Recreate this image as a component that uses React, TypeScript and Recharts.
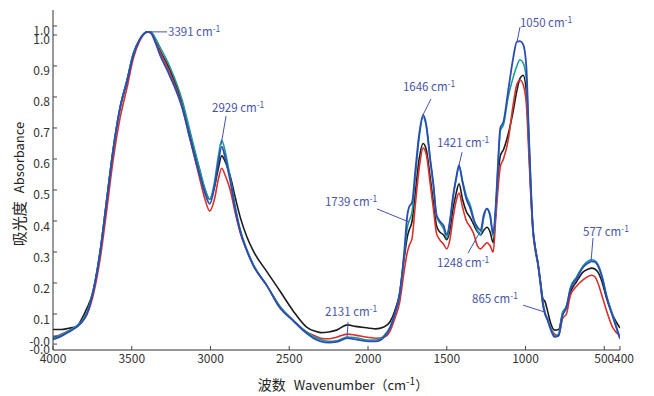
import React from 'react';
import { LineChart, Line, XAxis, YAxis, ReferenceDot, Label } from 'recharts';

// ---- data ----
const wavenumbers = [
  4000, 3950, 3900, 3850, 3820, 3785, 3750, 3700, 3660, 3620, 3575, 3530, 3490, 3450, 3400, 3380, 3350, 3320, 3260, 3180,
  3130, 3070, 3035, 3005, 2975, 2950, 2929, 2905, 2875, 2840, 2810, 2770, 2730, 2640, 2560, 2475, 2390, 2340, 2300, 2250,
  2200, 2131, 2080, 2000, 1950, 1900, 1860, 1830, 1800, 1770, 1750, 1739, 1720, 1700, 1675, 1650, 1630, 1605, 1585, 1565,
  1545, 1520, 1500, 1480, 1460, 1440, 1422, 1400, 1375, 1350, 1330, 1305, 1285, 1265, 1245, 1225, 1205, 1190, 1175, 1160,
  1140, 1110, 1080, 1055, 1035, 1015, 995, 980, 965, 952, 940, 920, 905, 890, 876, 860, 840, 815, 790, 765,
  740, 715, 675, 635, 600, 580, 560, 540, 515, 485, 445, 400,
];

const seriesBlue = [
  0.018, 0.028, 0.042, 0.058, 0.072, 0.1, 0.16, 0.3, 0.46, 0.62, 0.76, 0.85, 0.935, 0.985, 1.01, 1.008, 0.975, 0.935, 0.87, 0.765,
  0.665, 0.55, 0.49, 0.455, 0.51, 0.59, 0.64, 0.6, 0.53, 0.43, 0.365, 0.305, 0.258, 0.19, 0.12, 0.078, 0.038, 0.02, 0.012, 0.008,
  0.01, 0.022, 0.018, 0.012, 0.012, 0.025, 0.055, 0.1, 0.16, 0.3, 0.42, 0.445, 0.46, 0.56, 0.68, 0.742, 0.71, 0.6, 0.52, 0.42,
  0.4, 0.385, 0.355, 0.4, 0.48, 0.54, 0.58, 0.525, 0.47, 0.44, 0.405, 0.38, 0.37, 0.42, 0.44, 0.42, 0.36, 0.44, 0.58, 0.7,
  0.72, 0.82, 0.92, 0.978, 0.98, 0.97, 0.9, 0.7, 0.5, 0.37, 0.32, 0.26, 0.2, 0.135, 0.1, 0.08, 0.05, 0.026, 0.03, 0.095,
  0.12, 0.18, 0.215, 0.25, 0.265, 0.27, 0.268, 0.255, 0.22, 0.155, 0.09, 0.02,
];

const seriesTeal = [
  0.022, 0.032, 0.046, 0.062, 0.076, 0.105, 0.165, 0.305, 0.465, 0.625, 0.765, 0.855, 0.94, 0.985, 1.01, 1.01, 0.99, 0.96, 0.9, 0.79,
  0.69, 0.57, 0.505, 0.47, 0.525, 0.61, 0.66, 0.62, 0.54, 0.44, 0.37, 0.31, 0.262, 0.19, 0.125, 0.08, 0.042, 0.025, 0.018, 0.012,
  0.014, 0.026, 0.024, 0.016, 0.016, 0.03, 0.058, 0.1, 0.16, 0.29, 0.38, 0.4, 0.43, 0.54, 0.67, 0.735, 0.705, 0.595, 0.515, 0.415,
  0.395, 0.375, 0.345, 0.395, 0.475, 0.535, 0.575, 0.53, 0.48, 0.45, 0.41, 0.37, 0.355, 0.41, 0.44, 0.415, 0.35, 0.43, 0.57, 0.69,
  0.71, 0.8, 0.86, 0.9, 0.92, 0.91, 0.86, 0.69, 0.5, 0.37, 0.32, 0.26, 0.2, 0.14, 0.105, 0.085, 0.055, 0.03, 0.035, 0.105,
  0.125, 0.185, 0.22, 0.255, 0.272, 0.275, 0.272, 0.26, 0.225, 0.16, 0.095, 0.022,
];

const seriesBlack = [
  0.05, 0.05, 0.054, 0.06, 0.082, 0.118, 0.165, 0.305, 0.465, 0.625, 0.765, 0.855, 0.94, 0.985, 1.01, 1.008, 0.985, 0.95, 0.89, 0.78,
  0.68, 0.565, 0.5, 0.47, 0.51, 0.57, 0.61, 0.59, 0.545, 0.47, 0.41, 0.35, 0.305, 0.235, 0.175, 0.11, 0.058, 0.045, 0.04, 0.042,
  0.048, 0.065, 0.06, 0.055, 0.052, 0.058, 0.075, 0.11, 0.165, 0.28, 0.35, 0.37, 0.4, 0.49, 0.6, 0.65, 0.63, 0.54, 0.46, 0.385,
  0.365, 0.355, 0.34, 0.37, 0.44, 0.49, 0.52, 0.47, 0.43, 0.41, 0.39, 0.365, 0.355, 0.37, 0.38, 0.365, 0.33, 0.42, 0.54, 0.61,
  0.63, 0.68, 0.75, 0.82, 0.86, 0.87, 0.82, 0.66, 0.48, 0.37, 0.32, 0.26, 0.205, 0.15, 0.14, 0.11, 0.07, 0.048, 0.05, 0.1,
  0.125, 0.17, 0.205, 0.235, 0.245, 0.248, 0.245, 0.235, 0.205, 0.15, 0.095, 0.055,
];

const seriesRed = [
  0.025, 0.034, 0.046, 0.06, 0.072, 0.098, 0.15, 0.28, 0.43, 0.59, 0.73, 0.83, 0.925, 0.98, 1.01, 1.006, 0.98, 0.945, 0.88, 0.77,
  0.665, 0.54, 0.47, 0.432, 0.47, 0.535, 0.57, 0.545, 0.5, 0.42, 0.36, 0.305, 0.26, 0.19, 0.125, 0.08, 0.042, 0.03, 0.022, 0.02,
  0.025, 0.035, 0.032, 0.025, 0.022, 0.025, 0.045, 0.085, 0.135, 0.24, 0.3, 0.32, 0.345, 0.45, 0.57, 0.635, 0.615, 0.52, 0.44, 0.36,
  0.34, 0.325, 0.31, 0.34, 0.41, 0.465, 0.49, 0.445, 0.4, 0.38, 0.36, 0.32, 0.31, 0.32, 0.33, 0.32, 0.3, 0.4, 0.5, 0.575,
  0.6, 0.66, 0.77, 0.84, 0.855, 0.84, 0.78, 0.63, 0.47, 0.36, 0.31, 0.255, 0.195, 0.13, 0.1, 0.085, 0.055, 0.035, 0.03, 0.085,
  0.1, 0.16, 0.19, 0.21, 0.222, 0.225, 0.22, 0.2, 0.16, 0.11, 0.055, 0.03,
];

const xTicks = [4000, 3500, 3000, 2500, 2000, 1500, 1000, 500, 400];
const yTicks = [0.003, 0.029, 0.1, 0.2, 0.3, 0.4, 0.5, 0.6, 0.7, 0.8, 0.9, 1.0, 1.029];

const peakNames = ['3391', '2929', '1646', '1421', '1050', '1739', '2131', '1248', '865', '577'];
const peakWavenumbers = [3384, 2933, 1651, 1422, 1054, 1740, 2133, 1276, 876, 584];
const peakAbsorbance = [1.01, 0.645, 0.742, 0.58, 0.977, 0.397, 0.026, 0.377, 0.106, 0.268];

// ---- layout (pixel offsets of leader end and text start relative to the peak point) ----
const leaderOffsets = [[17, 0], [5, -29], [8, -16], [3, -13], [3, -15], [-32, -13], [1, -15], [-14, 25], [-22, -7], [2, -24]];
const textOffsets = [[18, 4], [-9, -33], [-20, -24], [-22, -18], [3, -15], [-84, -16], [-22, -21], [-45, 39], [-73, -9], [-8, -26]];

const data = wavenumbers.map((w, i) => ({
  w,
  black: seriesBlack[i],
  red: seriesRed[i],
  teal: seriesTeal[i],
  blue: seriesBlue[i],
}));

const FONT = '"Noto Sans CJK SC", "Noto Sans", sans-serif';
const TICK_COLOR = '#333';
const ANN_COLOR = '#4a55a6';

const fmtY = (v: number) => {
  if (v < 0.05) return '-0.0';
  if (v > 1.01) return '1.0';
  return v.toFixed(1);
};

const YTick = (props: any) => {
  const { x, y, payload } = props;
  return (
    <g>
      <line x1={x + 3} x2={x + 7} y1={y} y2={y} stroke="#444" strokeWidth={1} />
      <text x={x} y={y + 4} textAnchor="end" dominantBaseline="central" fontSize={12} fill={TICK_COLOR} fontFamily={FONT}>
        {fmtY(payload.value)}
      </text>
    </g>
  );
};

const XTick = (props: any) => {
  const { x, y, payload } = props;
  let anchor: 'middle' | 'end' | 'start' = 'middle';
  let tx = x;
  if (payload.value === 500) { anchor = 'end'; tx = x + 10; }
  if (payload.value === 400) { anchor = 'start'; tx = x - 6; }
  return (
    <g>
      <line x1={x} x2={x} y1={y} y2={y - 4} stroke="#444" strokeWidth={1} />
      <text x={tx} y={y + 13} textAnchor={anchor} fontSize={12} fill={TICK_COLOR} fontFamily={FONT}>
        {payload.value}
      </text>
    </g>
  );
};

const makeAnnotation = (i: number) => (p: any) => {
  const { cx, cy } = p;
  const [lx, ly] = leaderOffsets[i];
  const [tx, ty] = textOffsets[i];
  return (
    <g>
      <line x1={cx} y1={cy} x2={cx + lx} y2={cy + ly} stroke="#4350b0" strokeWidth={1} />
      <text x={cx + tx} y={cy + ty} fontSize={11.5} fill={ANN_COLOR} fontFamily={FONT}>
        {peakNames[i]} cm
        <tspan dy={-4} fontSize={8.5}>-1</tspan>
      </text>
    </g>
  );
};

export default function App() {
  return (
    <div style={{ width: 646, height: 388, background: '#fff' }}>
      <LineChart width={646} height={388} data={data} margin={{ top: 2, right: 34, left: 0, bottom: 16 }}>
        <XAxis
          dataKey="w"
          type="number"
          domain={[400, 4000]}
          reversed
          ticks={xTicks}
          interval={0}
          allowDataOverflow
          height={30}
          tickSize={0}
          tickMargin={0}
          tickLine={false}
          axisLine={{ stroke: '#333', strokeWidth: 1 }}
          tick={<XTick />}
        >
          <Label
            content={() => (
              <text x={335} y={382} textAnchor="middle" fontFamily={FONT} fill="#222">
                <tspan fontSize={14}>波数</tspan>
                <tspan fontSize={13} dx={8}>Wavenumber（cm</tspan>
                <tspan fontSize={10} dy={-5}>-1</tspan>
                <tspan fontSize={13} dy={5}>）</tspan>
              </text>
            )}
          />
        </XAxis>
        <YAxis
          type="number"
          domain={[-0.0161, 1.0806]}
          allowDataOverflow
          ticks={yTicks}
          interval={0}
          width={45}
          tickSize={0}
          tickMargin={3}
          tickLine={false}
          axisLine={{ stroke: '#333', strokeWidth: 1 }}
          tick={<YTick />}
        >
          <Label
            content={() => (
              <text transform="translate(10,176) rotate(-90)" textAnchor="middle" dominantBaseline="central" fontFamily={FONT} fill="#222">
                <tspan fontSize={15}>吸光度</tspan>
                <tspan fontSize={13} dx={8}>Absorbance</tspan>
              </text>
            )}
          />
        </YAxis>
        <Line type="monotone" dataKey="black" stroke="#1c1c1c" strokeWidth={1.6} dot={false} isAnimationActive={false} />
        <Line type="monotone" dataKey="red" stroke="#d9312b" strokeWidth={1.6} dot={false} isAnimationActive={false} />
        <Line type="monotone" dataKey="teal" stroke="#1f9a98" strokeWidth={1.6} dot={false} isAnimationActive={false} />
        <Line type="monotone" dataKey="blue" stroke="#2a4db5" strokeWidth={1.8} dot={false} isAnimationActive={false} />
        {peakNames.map((name, i) => (
          <ReferenceDot
            key={name}
            x={peakWavenumbers[i]}
            y={peakAbsorbance[i]}
            r={0}
            ifOverflow="visible"
            shape={makeAnnotation(i)}
          />
        ))}
      </LineChart>
    </div>
  );
}
